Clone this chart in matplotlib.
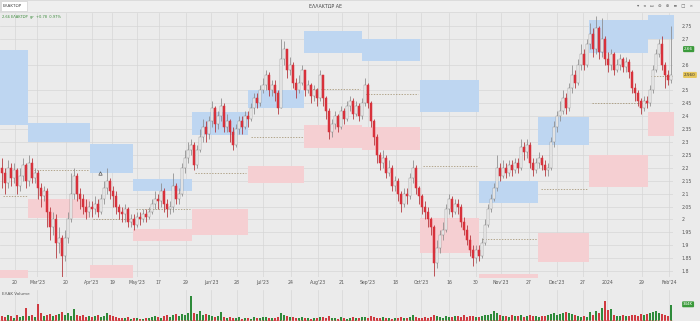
import matplotlib
matplotlib.use("Agg")
import matplotlib.pyplot as plt
from matplotlib.patches import Rectangle
import numpy as np

# daily candles (close / high / low), open = previous close
first_open = 2.20
closes = [
    2.18, 2.14, 2.20, 2.16, 2.19, 2.13, 2.17, 2.21, 2.15, 2.22,
    2.16, 2.18, 2.12, 2.09, 2.11, 2.03, 1.97, 2.00, 1.91, 1.93,
    1.86, 1.93, 2.00, 2.10, 2.17, 2.10, 2.08, 2.05, 2.03, 2.05,
    2.04, 2.06, 2.03, 2.08, 2.12, 2.15, 2.11, 2.09, 2.05, 2.03,
    2.02, 2.04, 1.99, 2.00, 1.98, 2.01, 2.00, 2.02, 2.01, 2.03,
    2.06, 2.08, 2.07, 2.11, 2.06, 2.04, 2.05, 2.13, 2.08, 2.10,
    2.20, 2.24, 2.27, 2.29, 2.21, 2.27, 2.32, 2.36, 2.33, 2.38,
    2.43, 2.37, 2.40, 2.44, 2.36, 2.38, 2.34, 2.29, 2.35, 2.38,
    2.36, 2.40, 2.39, 2.43, 2.47, 2.45, 2.50, 2.52, 2.56, 2.50,
    2.52, 2.49, 2.43, 2.62, 2.66, 2.58, 2.60, 2.53, 2.50, 2.53,
    2.58, 2.50, 2.52, 2.48, 2.50, 2.47, 2.56, 2.47, 2.42, 2.34,
    2.37, 2.40, 2.36, 2.42, 2.39, 2.44, 2.46, 2.41, 2.44, 2.40,
    2.45, 2.52, 2.45, 2.38, 2.32, 2.25, 2.22, 2.24, 2.18, 2.20,
    2.13, 2.15, 2.10, 2.06, 2.10, 2.09, 2.16, 2.20, 2.12, 2.09,
    2.05, 2.03, 2.00, 1.97, 1.83, 1.89, 1.94, 1.96, 2.04, 2.08,
    2.03, 2.06, 2.05, 1.99, 1.96, 1.92, 1.88, 1.85, 1.88, 1.86,
    1.91, 1.98, 2.04, 2.08, 2.12, 2.20, 2.17, 2.20, 2.18, 2.21,
    2.19, 2.22, 2.20, 2.28, 2.26, 2.29, 2.22, 2.19, 2.22, 2.24,
    2.21, 2.19, 2.20, 2.30, 2.36, 2.40, 2.42, 2.47, 2.43, 2.51,
    2.56, 2.53, 2.60, 2.64, 2.60, 2.68, 2.72, 2.66, 2.74, 2.65,
    2.70, 2.62, 2.60, 2.64, 2.58, 2.60, 2.62, 2.59, 2.61, 2.57,
    2.51, 2.49, 2.46, 2.43, 2.46, 2.45, 2.50, 2.58, 2.64, 2.68,
    2.60, 2.56, 2.54, 2.56,
]
highs = [
    2.24, 2.20, 2.23, 2.22, 2.22, 2.20, 2.20, 2.24, 2.22, 2.25,
    2.24, 2.20, 2.19, 2.14, 2.13, 2.12, 2.05, 2.03, 2.02, 1.97,
    1.94, 1.96, 2.03, 2.18, 2.20, 2.18, 2.12, 2.10, 2.08, 2.07,
    2.07, 2.09, 2.08, 2.10, 2.15, 2.20, 2.16, 2.13, 2.11, 2.06,
    2.05, 2.06, 2.05, 2.02, 2.02, 2.03, 2.03, 2.04, 2.04, 2.05,
    2.08, 2.11, 2.10, 2.14, 2.12, 2.08, 2.07, 2.18, 2.14, 2.12,
    2.22, 2.27, 2.30, 2.31, 2.30, 2.29, 2.35, 2.39, 2.38, 2.40,
    2.46, 2.44, 2.42, 2.47, 2.45, 2.41, 2.39, 2.36, 2.37, 2.40,
    2.40, 2.42, 2.42, 2.45, 2.49, 2.49, 2.52, 2.55, 2.58, 2.57,
    2.54, 2.54, 2.50, 2.70, 2.69, 2.66, 2.63, 2.61, 2.55, 2.56,
    2.60, 2.58, 2.54, 2.53, 2.52, 2.51, 2.58, 2.56, 2.48, 2.43,
    2.39, 2.42, 2.41, 2.44, 2.43, 2.46, 2.48, 2.47, 2.46, 2.45,
    2.47, 2.55, 2.53, 2.46, 2.39, 2.33, 2.26, 2.27, 2.25, 2.23,
    2.21, 2.17, 2.16, 2.11, 2.12, 2.12, 2.18, 2.23, 2.21, 2.13,
    2.10, 2.07, 2.05, 2.01, 1.98, 1.92, 1.96, 1.99, 2.06, 2.10,
    2.09, 2.08, 2.08, 2.06, 2.01, 1.98, 1.94, 1.90, 1.90, 1.90,
    1.93, 2.00, 2.06, 2.10, 2.14, 2.25, 2.22, 2.23, 2.22, 2.23,
    2.23, 2.24, 2.24, 2.31, 2.30, 2.31, 2.30, 2.24, 2.24, 2.26,
    2.25, 2.23, 2.22, 2.32, 2.38, 2.42, 2.46, 2.50, 2.49, 2.53,
    2.60, 2.58, 2.62, 2.68, 2.66, 2.70, 2.76, 2.74, 2.79, 2.75,
    2.78, 2.71, 2.65, 2.66, 2.65, 2.62, 2.64, 2.63, 2.63, 2.62,
    2.58, 2.53, 2.50, 2.47, 2.48, 2.48, 2.52, 2.60, 2.66, 2.70,
    2.71, 2.61, 2.58, 2.75,
]
lows = [
    2.12, 2.10, 2.12, 2.13, 2.14, 2.10, 2.11, 2.15, 2.12, 2.13,
    2.14, 2.14, 2.08, 2.05, 2.07, 1.97, 1.92, 1.94, 1.85, 1.87,
    1.76, 1.84, 1.91, 1.99, 2.08, 2.07, 2.04, 2.02, 2.00, 2.01,
    2.01, 2.02, 2.01, 2.02, 2.06, 2.10, 2.08, 2.05, 2.02, 2.00,
    1.99, 1.99, 1.97, 1.97, 1.96, 1.97, 1.98, 1.99, 1.99, 2.00,
    2.02, 2.04, 2.04, 2.05, 2.03, 2.01, 2.02, 2.03, 2.06, 2.06,
    2.09, 2.18, 2.22, 2.25, 2.19, 2.20, 2.26, 2.30, 2.30, 2.31,
    2.36, 2.34, 2.35, 2.38, 2.34, 2.34, 2.30, 2.27, 2.28, 2.33,
    2.33, 2.35, 2.36, 2.38, 2.41, 2.43, 2.44, 2.49, 2.50, 2.48,
    2.48, 2.46, 2.41, 2.43, 2.60, 2.55, 2.56, 2.51, 2.47, 2.49,
    2.52, 2.48, 2.49, 2.45, 2.46, 2.44, 2.46, 2.44, 2.39, 2.31,
    2.32, 2.35, 2.34, 2.35, 2.37, 2.38, 2.42, 2.39, 2.40, 2.38,
    2.39, 2.44, 2.43, 2.36, 2.29, 2.22, 2.19, 2.20, 2.16, 2.17,
    2.11, 2.11, 2.07, 2.03, 2.05, 2.06, 2.08, 2.14, 2.10, 2.06,
    2.02, 2.00, 1.97, 1.94, 1.78, 1.81, 1.87, 1.92, 1.95, 2.02,
    2.01, 2.02, 2.02, 1.97, 1.94, 1.90, 1.86, 1.82, 1.83, 1.84,
    1.85, 1.90, 1.97, 2.03, 2.07, 2.11, 2.15, 2.16, 2.16, 2.17,
    2.17, 2.18, 2.18, 2.19, 2.23, 2.24, 2.20, 2.17, 2.18, 2.20,
    2.19, 2.17, 2.17, 2.19, 2.28, 2.34, 2.38, 2.41, 2.41, 2.42,
    2.49, 2.51, 2.52, 2.58, 2.58, 2.59, 2.66, 2.63, 2.64, 2.62,
    2.63, 2.60, 2.57, 2.58, 2.56, 2.57, 2.58, 2.57, 2.57, 2.55,
    2.49, 2.46, 2.44, 2.41, 2.42, 2.43, 2.44, 2.49, 2.57, 2.63,
    2.58, 2.51, 2.52, 2.53,
]
volumes = [
    20, 14, 22, 18, 12, 24, 16, 20, 52, 18,
    22, 15, 68, 30, 20, 24, 28, 18, 22, 26,
    35, 24, 30, 20, 48, 22, 18, 25, 16, 20,
    14, 18, 22, 16, 20, 30, 24, 18, 14, 12,
    10, 12, 14, 8, 10, 12, 9, 8, 12, 10,
    14, 20, 16, 12, 18, 24, 14, 22, 26, 20,
    28, 24, 32, 100, 30, 26, 40, 22, 28, 24,
    18, 16, 20, 36, 14, 12, 16, 10, 12, 14,
    8, 10, 12, 9, 14, 10, 12, 16, 14, 12,
    10, 12, 14, 32, 24, 18, 16, 14, 12, 10,
    14, 12, 10, 8, 12, 10, 16, 14, 12, 18,
    10, 12, 9, 14, 10, 8, 12, 14, 10, 12,
    16, 14, 12, 18, 14, 12, 10, 14, 12, 10,
    8, 10, 12, 14, 10, 12, 16, 22, 14, 10,
    12, 14, 10, 16, 24, 18, 14, 12, 20, 16,
    14, 18, 20, 16, 22, 14, 18, 20, 16, 14,
    18, 22, 24, 28, 40, 30, 24, 20, 18, 16,
    22, 18, 20, 24, 16, 18, 22, 20, 18, 16,
    20, 18, 22, 26, 30, 24, 28, 32, 36, 30,
    26, 22, 18, 16, 20, 14, 36, 22, 40, 30,
    52, 80, 44, 48, 24, 20, 18, 22, 20, 18,
    22, 24, 20, 26, 22, 28, 30, 34, 38, 32,
    26, 22, 18, 64,
]

# monthly supply / demand zones (candle index range, price bands, midline)
zone_start = [-0.7, 8.7, 29.3, 43.7, 63.3, 82.0, 100.7, 120.0, 139.3, 159.0, 178.7, 195.7, 215.3]
zone_end = [8.7, 29.3, 43.7, 63.3, 82.0, 100.7, 120.0, 139.3, 159.0, 178.7, 195.7, 215.3, 224.3]
blue_lo = [2.366, 2.300, 2.180, 2.110, 2.328, 2.432, 2.645, 2.614, 2.417, 2.064, 2.289, 2.645, 2.700]
blue_hi = [2.657, 2.374, 2.293, 2.157, 2.417, 2.502, 2.731, 2.700, 2.541, 2.149, 2.397, 2.773, 2.793]
red_lo = [1.760, 2.006, 1.760, 1.917, 1.940, 2.141, 2.277, 2.269, 1.870, 1.760, 1.835, 2.126, 2.324]
red_hi = [1.804, 2.079, 1.824, 1.963, 2.041, 2.207, 2.366, 2.359, 2.006, 1.789, 1.948, 2.250, 2.417]
mid_line = [2.091, 2.192, 2.002, 2.041, 2.180, 2.320, 2.506, 2.486, 2.207, 1.924, 2.118, 2.452, 2.556]

signal_idx = [32.7]
signal_price = [2.18]

tick_idx = [4.3, 11.7, 21.3, 30.0, 36.7, 45.0, 52.3, 61.3, 69.7, 78.3, 87.0, 96.3, 105.3,
            113.3, 122.0, 131.3, 139.7, 149.0, 158.0, 166.3, 175.7, 185.0, 193.7, 201.7, 213.3, 222.3]
tick_labels = ["20", "Mar'23", "20", "Apr'23", "19", "May'23", "17", "29", "Jun'23", "28",
               "Jul'23", "24", "Aug'23", "21", "Sep'23", "18", "Oct'23", "16", "30", "Nov'23",
               "27", "Dec'23", "27", "2024", "29", "Feb'24"]
price_ticks = [1.8, 1.85, 1.9, 1.95, 2.0, 2.05, 2.1, 2.15, 2.2, 2.25, 2.3, 2.35,
               2.4, 2.45, 2.5, 2.6, 2.7, 2.75]
last_high = 2.66
last_price = 2.56

bg = '#ebebeb'
up_col = '#ffffff'
down_col = '#d8313b'
blue_col = '#bed6f1'
pink_col = '#f5cfd2'

closes = np.array(closes)
opens = np.array([first_open] + list(closes[:-1]))
highs = np.maximum(np.array(highs), np.maximum(opens, closes))
lows = np.minimum(np.array(lows), np.minimum(opens, closes))
x = np.arange(len(closes))
up = closes >= opens

fig = plt.figure(figsize=(7, 3.21), dpi=100, facecolor=bg)
ax = fig.add_axes([0, 0.1371, 0.9614, 0.8224])
ax.set_facecolor(bg)
ax.set_xlim(-0.67, 223.67)
ax.set_ylim(1.777, 2.800)
for s in ax.spines.values():
    s.set_visible(False)

ax.set_yticks(price_ticks)
ax.set_yticklabels([f"{v:g}" for v in price_ticks])
ax.yaxis.tick_right()
ax.tick_params(axis='y', length=0, pad=6, labelsize=3.3, labelcolor='#555555')
ax.set_xticks(tick_idx)
ax.set_xticklabels(tick_labels)
ax.tick_params(axis='x', length=0, pad=2.5, labelsize=3.3, labelcolor='#555555')
ax.grid(True, color='#d6d6d6', lw=0.5, zorder=0)
ax.set_axisbelow(True)

for i in range(len(zone_start)):
    xs = [zone_start[i], zone_end[i]]
    ax.fill_between(xs, [blue_lo[i]] * 2, [blue_hi[i]] * 2, color=blue_col, lw=0, zorder=1)
    ax.fill_between(xs, [red_lo[i]] * 2, [red_hi[i]] * 2, color=pink_col, lw=0, zorder=1)
    ax.hlines(mid_line[i], zone_start[i] + 1, zone_end[i] - 0.5, colors='#9c8a66',
              linestyles=(0, (2, 2)), lw=0.5, zorder=2)

wick_cols = np.where(up, '#8a8a8a', '#b02a30')
ax.vlines(x, lows, highs, colors=wick_cols, lw=0.55, zorder=3)
body_bottom = np.minimum(opens, closes)
body_h = np.maximum(np.abs(closes - opens), 0.004)
ax.bar(x, body_h, bottom=body_bottom, width=0.62,
       color=np.where(up, up_col, down_col),
       edgecolor=np.where(up, '#8a8a8a', down_col), linewidth=0.35, zorder=4)

ax.plot(signal_idx, signal_price, marker='^', ms=2.5, mfc='none', mec='#555555',
        mew=0.5, ls='none', zorder=5)

# price labels on the right axis
ax.annotate(f"{last_high:.2f}", xy=(1.0, last_high), xycoords=('axes fraction', 'data'),
            xytext=(8, 0), textcoords='offset points', fontsize=3.0, color='white',
            va='center', annotation_clip=False,
            bbox=dict(boxstyle='round,pad=0.25', fc='#3a9a3a', ec='none'))
ax.annotate(f"{last_price:.3f}", xy=(1.0, last_price), xycoords=('axes fraction', 'data'),
            xytext=(8, 0), textcoords='offset points', fontsize=3.0, color='#333333',
            va='center', annotation_clip=False,
            bbox=dict(boxstyle='round,pad=0.25', fc='#e6c65a', ec='none'))

# volume panel
axv = fig.add_axes([0, 0, 0.9614, 0.0966])
axv.set_facecolor(bg)
axv.set_xlim(-0.67, 223.67)
axv.set_ylim(0, 124)
for s in axv.spines.values():
    s.set_visible(False)
axv.set_xticks(tick_idx)
axv.set_xticklabels([])
axv.set_yticks([])
axv.tick_params(length=0)
axv.grid(True, axis='x', color='#d6d6d6', lw=0.5)
axv.set_axisbelow(True)
axv.bar(x, volumes, width=0.6, color=np.where(up, '#2e8b3a', '#cf3a40'), lw=0, zorder=2)
axv.axhline(2, color='#e06a6a', ls=(0, (2, 2)), lw=0.5, zorder=3)
axv.text(0.003, 0.93, "ΕΛΑΚ Volume", transform=axv.transAxes, fontsize=3.0,
         color='#555555', va='top')
fig.text(0.983, 0.052, "344K", fontsize=2.8, color='white', ha='center', va='center',
         bbox=dict(boxstyle='round,pad=0.25', fc='#3a9a3a', ec='none'))

# top bar
fig.patches.append(Rectangle((0, 0.962), 1, 0.038, transform=fig.transFigure,
                             fc='#efefef', ec='#d0d0d0', lw=0.4))
fig.patches.append(Rectangle((0.001, 0.966), 0.038, 0.031, transform=fig.transFigure,
                             fc='white', ec='#c8c8c8', lw=0.4))
fig.text(0.004, 0.981, "ΕΛΑΚΤΩΡ", fontsize=3.0, color='#444444', va='center')
fig.text(0.465, 0.981, "ΕΛΛΑΚΤΩΡ ΑΕ", fontsize=3.4, color='#444444', va='center', ha='center')
fig.text(0.003, 0.948, "2.66 ΕΛΑΚΤΩΡ  gr  +0.78  0.97%", fontsize=2.6, color='#3a8a3a',
         va='center')
fig.text(0.99, 0.981, "▾   ◂   ▭   ⊖   ⊕   ≡   □   ×", fontsize=3.2, color='#666666',
         va='center', ha='right')

fig.savefig("out.png", dpi=100, facecolor=bg)
